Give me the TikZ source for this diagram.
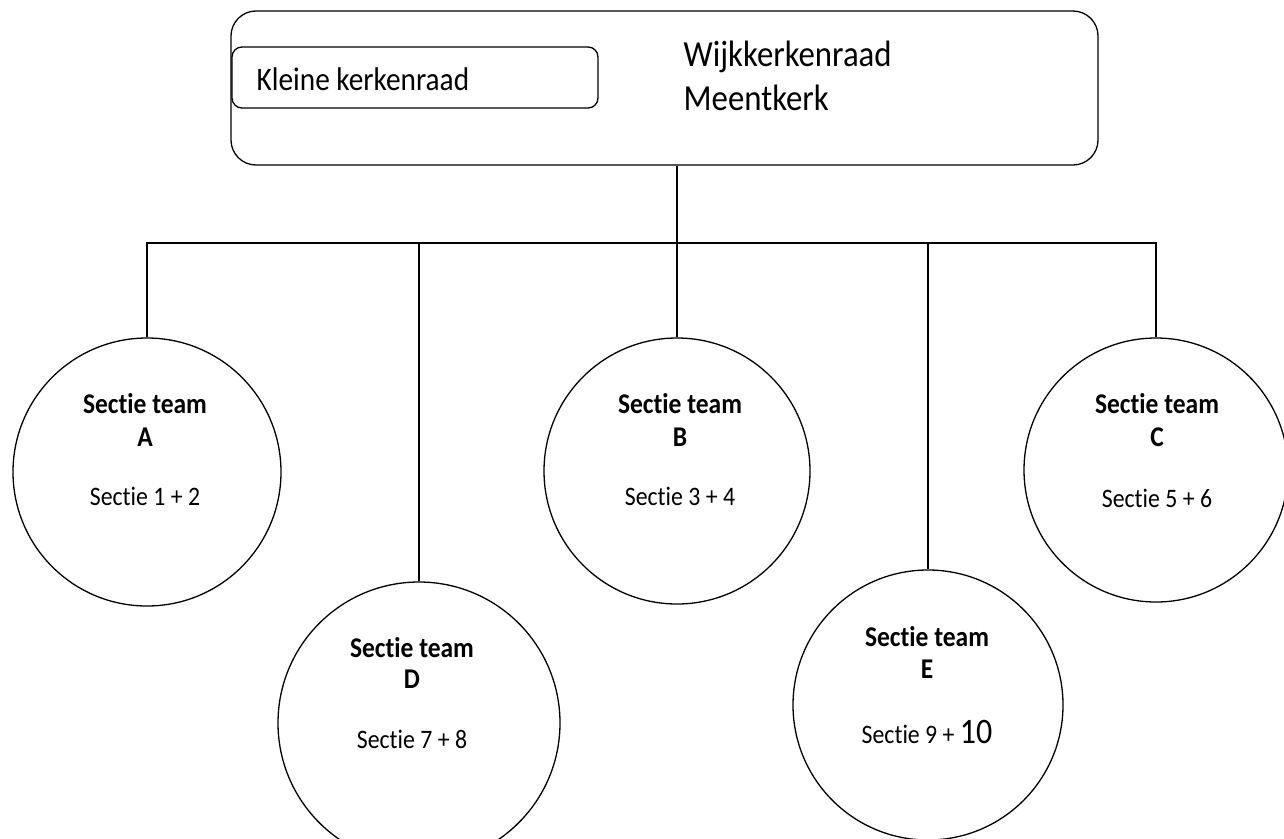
\documentclass[tikz,border=0pt]{standalone}
\usepackage{fontspec}
\setmainfont{Carlito}[Ligatures={NoCommon,NoRare}]
\newcommand\vstr[1]{\scalebox{1}[1.12]{#1}}
\begin{document}
\begin{tikzpicture}[x=1pt,y=-1pt,
  line width=1.3pt,
  team/.style={draw, circle, inner sep=0pt, fill=white},
  boldtxt/.style={anchor=base, inner sep=0pt, font=\bfseries\fontsize{25.5}{30}\selectfont},
  regtxt/.style={anchor=base, inner sep=0pt, font=\fontsize{23.8}{28}\selectfont},
  bigtxt/.style={anchor=base west, inner sep=0pt, font=\fontsize{32.8}{38}\selectfont}
]
\useasboundingbox (0,0) rectangle (1284,838);
\clip (0,0) rectangle (1284,838);
\fill[white] (0,0) rectangle (1284,838);

% top box
\node[draw, rounded corners=25pt, minimum width=867pt, minimum height=154pt, inner sep=0pt] (top) at (664.5,88) {};
\node[draw, rounded corners=10pt, minimum width=366pt, minimum height=61pt, inner sep=0pt] (small) at (415,77.5) {};
\node[anchor=base west, inner sep=0pt, font=\fontsize{29.3}{34}\selectfont] (smalltxt) at (256,90) {\vstr{Kleine kerkenraad}};
\node[bigtxt] (t1) at (683,66) {\vstr{Wijkkerkenraad}};
\node[bigtxt] (t2) at (683,110) {\vstr{Meentkerk}};

% circles
\node[team, minimum size=268pt] (A) at (147,472) {};
\node[team, minimum size=266pt] (B) at (677,471) {};
\node[team, minimum size=264pt] (C) at (1156,470) {};
\node[team, minimum size=282pt] (D) at (419,723) {};
\node[team, minimum size=270pt] (E) at (928,705) {};

% connectors
\coordinate (barL) at (147,243);
\coordinate (barR) at (1156,243);
\draw (top.south -| B.north) -- (B.north);
\draw (A.north) -- (barL) -- (barR) -- (C.north);
\draw (D.north) -- (D.north |- barL);
\draw (E.north) -- (E.north |- barL);

% texts
\node[boldtxt] (a1) at (145,413) {\vstr{Sectie team}};
\node[boldtxt] (a2) at (145,446) {\vstr{A}};
\node[regtxt] (a3) at (145,505) {\vstr{Sectie 1 + 2}};

\node[boldtxt] (b1) at (680,413) {\vstr{Sectie team}};
\node[boldtxt] (b2) at (680,446) {\vstr{B}};
\node[regtxt] (b3) at (680,505) {\vstr{Sectie 3 + 4}};

\node[boldtxt] (c1) at (1157,413) {\vstr{Sectie team}};
\node[boldtxt] (c2) at (1157,446) {\vstr{C}};
\node[regtxt] (c3) at (1157,507) {\vstr{Sectie 5 + 6}};

\node[boldtxt] (d1) at (412,657) {\vstr{Sectie team}};
\node[boldtxt] (d2) at (412,688) {\vstr{D}};
\node[regtxt] (d3) at (412,748) {\vstr{Sectie 7 + 8}};

\node[boldtxt] (e1) at (927,646) {\vstr{Sectie team}};
\node[boldtxt] (e2) at (927,678) {\vstr{E}};
\node[regtxt] (e3) at (927,743) {\vstr{Sectie 9 + {\fontsize{32}{38}\selectfont 10}}};
\end{tikzpicture}
\end{document}
